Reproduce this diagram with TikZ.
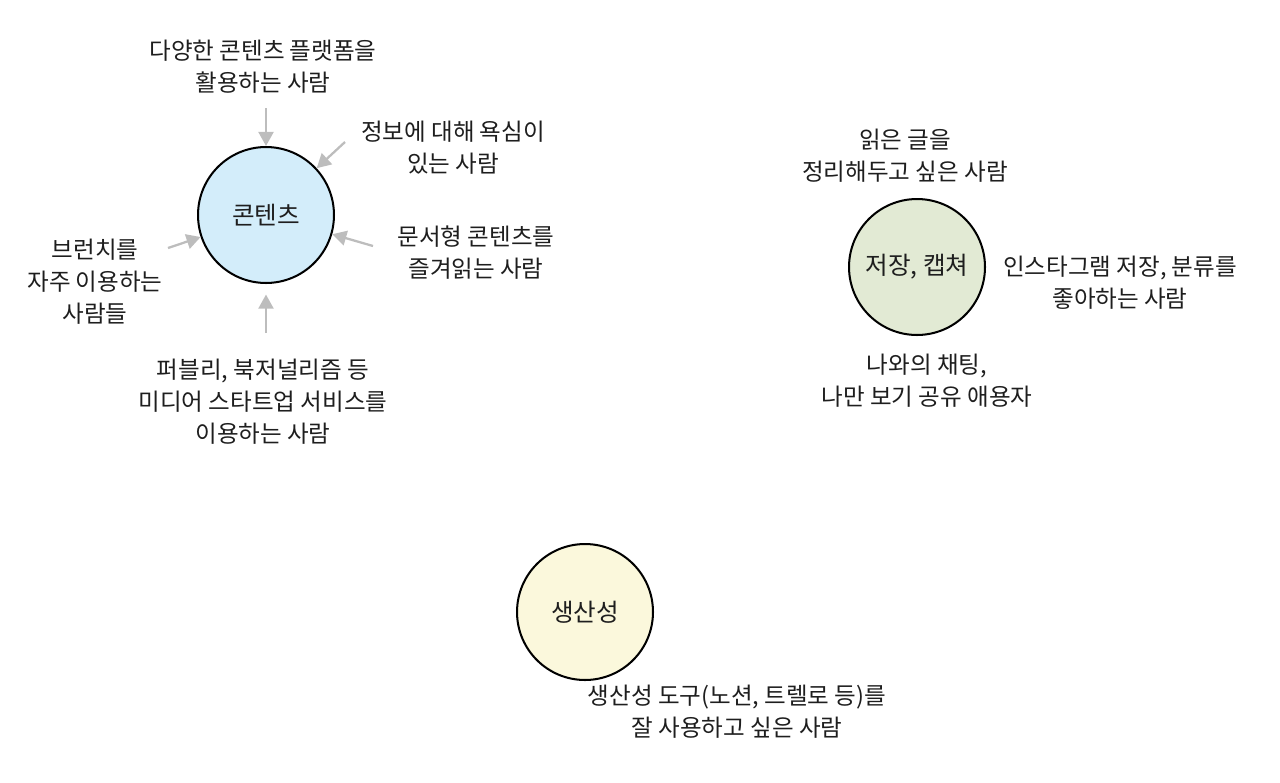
\documentclass[tikz,border=0pt]{standalone}
\usepackage{fontspec}
\usepackage{xcolor}
\usetikzlibrary{arrows.meta,positioning}
\newfontfamily\krfont{Noto Sans CJK KR}
\definecolor{contentblue}{HTML}{D3EDFA}
\definecolor{saveGreen}{HTML}{E2EAD4}
\definecolor{prodYellow}{HTML}{FBF8DC}
\definecolor{arrowgray}{HTML}{BDBDBD}
\definecolor{inkgray}{HTML}{1E1E1E}

\begin{document}
\begin{tikzpicture}[
    x=0.02cm, y=-0.02cm, % one unit = one pixel of the sketch
    hub/.style={
        circle,
        draw=black,
        line width=1.15pt,
        minimum size=2.72cm,
        inner sep=0pt,
        text=inkgray,
        font=\krfont\fontsize{14}{18}\selectfont
    },
    who/.style={
        align=center,
        text=inkgray,
        inner sep=1pt,
        font=\krfont\fontsize{13.4}{18.2}\selectfont
    },
    feed/.style={
        draw=arrowgray,
        line width=1.3pt,
        -{Triangle[length=8pt,width=8.5pt]}
    }
]
    \useasboundingbox (0,0) rectangle (1280,782);

    % --- Hubs ---
    \node [hub, fill=contentblue] (content) at (266,215) {콘텐츠};
    \node [hub, fill=saveGreen] (save) at (917,267) {저장, 캡쳐};
    \node [hub, fill=prodYellow] (prod) at (585,612) {생산성};

    % --- People around 콘텐츠 ---
    \node [who] (platform) at (263,67) {다양한 콘텐츠 플랫폼을\\활용하는 사람};
    \node [who] (greedy) at (453,148) {정보에 대해 욕심이\\있는 사람};
    \node [who] (docs) at (476,253) {문서형 콘텐츠를\\즐겨읽는 사람};
    \node [who] (brunch) at (95,282) {브런치를\\자주 이용하는\\사람들};
    \node [who] (media) at (263,402) {퍼블리, 북저널리즘 등\\미디어 스타트업 서비스를\\이용하는 사람};

    % --- People around 저장, 캡쳐 ---
    \node [who] (tidy) at (905,156) {읽은 글을\\정리해두고 싶은 사람};
    \node [who] (insta) at (1120,283) {인스타그램 저장, 분류를\\좋아하는 사람};
    \node [who] (selfchat) at (927,381) {나와의 채팅,\\나만 보기 공유 애용자};

    % --- People around 생산성 ---
    \node [who] (tools) at (737,712) {생산성 도구(노션, 트렐로 등)를\\잘 사용하고 싶은 사람};

    % --- Arrow tails ---
    \coordinate (platform-tail) at (266,108);
    \coordinate (greedy-tail) at (345,142);
    \coordinate (docs-tail) at (373,246);
    \coordinate (brunch-tail) at (168,248);
    \coordinate (media-tail) at (266,333);

    % --- Arrows into 콘텐츠 ---
    \path [feed] (platform-tail) -- (content);
    \path [feed] (greedy-tail) -- (content);
    \path [feed] (docs-tail) -- (content);
    \path [feed] (brunch-tail) -- (content);
    \path [feed, shorten >=6pt] (media-tail) -- (content);

\end{tikzpicture}
\end{document}
